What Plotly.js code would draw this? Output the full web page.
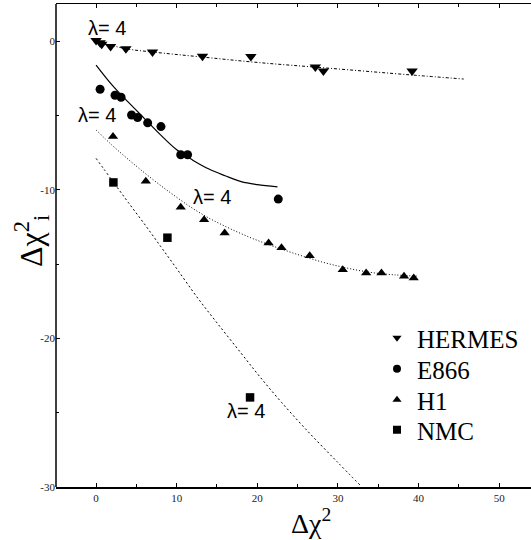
<!DOCTYPE html>
<html><head><meta charset="utf-8">
<script src="https://cdn.plot.ly/plotly-3.0.1.min.js"></script>
<style>html,body{margin:0;padding:0;background:#fff;}#chart{width:531px;height:540px;}</style>
</head><body><div id="chart"></div>
<script>
// Data points
var hermesX = [0, 0.5, 0.7, 1.8, 3.7, 7.0, 13.2, 19.2, 27.2, 28.2, 39.2];
var hermesY = [0.05, -0.1, -0.2, -0.35, -0.5, -0.72, -1.0, -1.03, -1.73, -2.0, -2.0];
var e866X = [0.5, 2.35, 3.1, 4.4, 5.15, 6.4, 8.05, 10.5, 11.35, 22.6];
var e866Y = [-3.23, -3.63, -3.77, -4.96, -5.13, -5.49, -5.74, -7.64, -7.64, -10.62];
var h1X = [2.1, 6.17, 10.5, 13.4, 15.95, 21.4, 23.0, 26.5, 30.6, 33.5, 35.4, 38.2, 39.4];
var h1Y = [-6.4, -9.42, -11.17, -12.02, -12.9, -13.57, -13.9, -14.43, -15.37, -15.59, -15.59, -15.82, -15.93];
var nmcX = [2.15, 8.85, 19.1];
var nmcY = [-9.5, -13.22, -23.97];

// Fit curves
var hermesFitX = [0, 3.7, 7, 13, 20.35, 28.6, 39.2, 45.6];
var hermesFitY = [0, -0.5, -0.72, -1.05, -1.44, -1.8, -2.27, -2.54];
var e866FitX = [0, 2, 4, 6, 8, 10, 12, 14, 16, 18, 20, 22.5];
var e866FitY = [-1.6, -2.95, -4.1, -5.2, -6.3, -7.3, -8.0, -8.6, -9.05, -9.45, -9.65, -9.8];
var h1FitX = [0, 2, 4, 6, 8, 10, 12, 14, 16, 18, 20, 22, 25, 28, 31, 34, 37, 39.8];
var h1FitY = [-5.97, -7.0, -7.95, -8.85, -9.7, -10.5, -11.25, -11.9, -12.45, -12.95, -13.4, -13.8, -14.35, -14.85, -15.25, -15.55, -15.72, -15.8];
var nmcFitX = [0, 2, 4, 6, 8, 10, 12.5, 15, 18, 20.35, 23, 26, 29.9, 32.8];
var nmcFitY = [-7.88, -9.37, -10.85, -12.3, -13.8, -15.3, -17.2, -18.95, -21.0, -22.6, -24.3, -26.1, -28.3, -29.9];

var seriesNames = ["HERMES", "E866", "H1", "NMC"];
var symbols = ["triangle-down", "circle", "triangle-up", "square"];

var xTickVals = [0, 10, 20, 30, 40, 50];
var xTickText = ["0", "10", "20", "30", "40", "50"];
var yTickVals = [-30, -20, -10, 0];
var yTickText = ["-30", "-20", "-10", "0"];

var lambdaLabel = "\u03bb= 4";
var lambdaX = [1.4, 0.15, 14.4, 18.6];
var lambdaY = [0.9, -4.95, -10.45, -24.9];

var SERIF = "Liberation Serif";
var SANS = "Liberation Sans";

var pts = [[hermesX, hermesY], [e866X, e866Y], [h1X, h1Y], [nmcX, nmcY]];
var fits = [[hermesFitX, hermesFitY, "3px,2px,1px,2px", 1], [e866FitX, e866FitY, "solid", 1.2], [h1FitX, h1FitY, "1px,2px", 1], [nmcFitX, nmcFitY, "2px,2.5px", 1]];
var sizes = [10, 9, 9, 8.5];
var legendIds = ["legend", "legend2", "legend3", "legend4"];
var legendRowPx = [338, 369, 400, 430];

var traces = [];
fits.forEach(function (f) {
  traces.push({x: f[0], y: f[1], mode: "lines", line: {color: "#000", width: f[3], dash: f[2], shape: "spline"}, showlegend: false, hoverinfo: "skip"});
});
pts.forEach(function (p, i) {
  traces.push({x: p[0], y: p[1], mode: "markers", marker: {symbol: symbols[i], size: sizes[i], color: "#000"}, showlegend: false, name: seriesNames[i]});
});
seriesNames.forEach(function (n, i) {
  traces.push({x: [null], y: [null], mode: "markers", name: n, legend: legendIds[i], marker: {symbol: symbols[i], size: 8, color: "#000"}, showlegend: true});
});

var annotations = lambdaX.map(function (x, i) {
  return {x: x, y: lambdaY[i], xref: "x", yref: "y", text: lambdaLabel, showarrow: false,
    font: {family: SANS, size: 20, color: "#000"}};
});
annotations.push({xref: "paper", yref: "paper", x: (311 - 56) / 475, y: -0.072, text: "\u0394\u03c7<sup>2</sup>", showarrow: false,
  font: {family: SERIF, size: 28, color: "#000"}, xanchor: "center", yanchor: "middle"});
annotations.push({xref: "paper", yref: "paper", x: -0.052, y: 0.51, text: "\u0394\u03c7<sup>2</sup><sub>i</sub>", showarrow: false, textangle: -90,
  font: {family: SERIF, size: 32, color: "#000"}, xanchor: "center", yanchor: "middle"});

var tickFont = {family: SERIF, size: 11, color: "#222"};
var layout = {
  width: 531, height: 540,
  margin: {l: 56, r: 0, t: 4, b: 53},
  paper_bgcolor: "#fff", plot_bgcolor: "#fff",
  showlegend: true,
  xaxis: {range: [-4.97, 53.95], showgrid: false, zeroline: false, showline: true, linecolor: "#000", linewidth: 1.5,
    mirror: "ticks", ticks: "inside", ticklen: 4, tickwidth: 1, tickcolor: "#000",
    tickvals: xTickVals, ticktext: xTickText, tickfont: tickFont,
    minor: {tickvals: [5, 15, 25, 35, 45], ticks: "inside", ticklen: 3, tickwidth: 1, tickcolor: "#000"}},
  yaxis: {range: [-30, 2.51], side: "left", showgrid: false, zeroline: false, showline: false,
    mirror: false, ticks: "inside", ticklen: 4, tickwidth: 1, tickcolor: "#000",
    tickvals: yTickVals, ticktext: yTickText, tickfont: tickFont,
    minor: {tickvals: [-25, -15, -5], ticks: "inside", ticklen: 3, tickwidth: 1, tickcolor: "#000"}},
  shapes: [{type: "line", xref: "paper", yref: "paper", x0: 0, x1: 0, y0: 0, y1: 1, line: {color: "#000", width: 1.5}}],
  annotations: annotations
};
legendIds.forEach(function (id, i) {
  layout[id] = {x: (377 - 56) / 475, y: (487 - legendRowPx[i]) / 483, xanchor: "left", yanchor: "middle",
    bgcolor: "rgba(0,0,0,0)", borderwidth: 0,
    font: {family: SERIF, size: 25, color: "#000"}};
});
Plotly.newPlot("chart", traces, layout, {staticPlot: true, displayModeBar: false});
</script></body></html>
